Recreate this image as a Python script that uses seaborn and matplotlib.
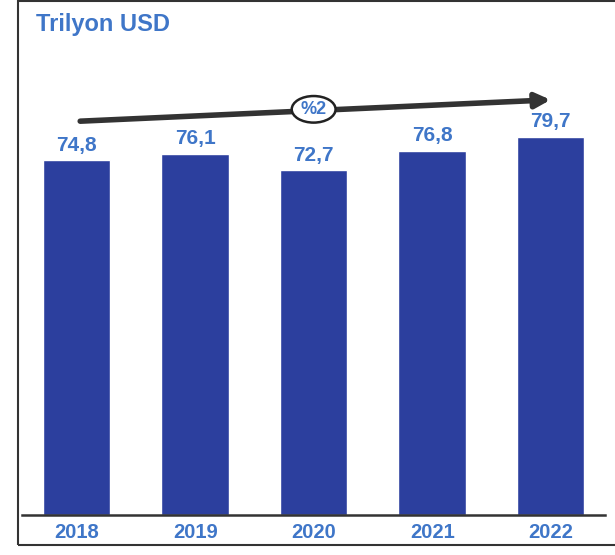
import pandas as pd
import matplotlib.pyplot as plt
import seaborn as sns
from matplotlib.patches import Ellipse, Rectangle

years = ['2018', '2019', '2020', '2021', '2022']
values = [74.8, 76.1, 72.7, 76.8, 79.7]
growth_label = '%2'
unit_title = 'Trilyon USD'

bar_color = '#2c3f9e'
text_color = '#3f76c8'

sns.set_style('white')
plt.rcParams['font.family'] = ['Liberation Sans', 'DejaVu Sans']

df = pd.DataFrame({'year': years, 'value': values})

fig = plt.figure(figsize=(6.15, 5.55), dpi=100)
ax = fig.add_axes([0.036, 0.072, 0.948, 0.855])

sns.barplot(data=df, x='year', y='value', color=bar_color, width=0.57,
            saturation=1, ax=ax)

ax.set_xlim(-0.46, 4.46)
ax.set_ylim(0, 100)
ax.set_xlabel('')
ax.set_ylabel('')
ax.set_yticks([])
ax.tick_params(axis='x', length=0, pad=6, labelsize=14.5, labelcolor=text_color)
for lbl in ax.get_xticklabels():
    lbl.set_fontweight('bold')
for side in ['top', 'right', 'left']:
    ax.spines[side].set_visible(False)
ax.spines['bottom'].set_color('#333333')
ax.spines['bottom'].set_linewidth(1.8)

ax.bar_label(ax.containers[0],
             labels=[f'{v:.1f}'.replace('.', ',') for v in values],
             padding=4, fontsize=15, fontweight='bold', color=text_color)

# growth arrow
ax.annotate('', xy=(4.0, 87.5), xytext=(0.03, 83),
            arrowprops=dict(arrowstyle='-|>', color='#333333', lw=4,
                            mutation_scale=22, shrinkA=0, shrinkB=0))
ax.add_patch(Ellipse((2.0, 85.5), 0.37, 5.6, facecolor='white',
                     edgecolor='#222222', lw=1.8, zorder=5))
ax.text(2.0, 85.5, growth_label, ha='center', va='center', fontsize=13,
        fontweight='bold', color=text_color, zorder=6)

fig.text(0.058, 0.955, unit_title, ha='left', va='center', fontsize=17,
         fontweight='bold', color=text_color)

# outer frame
fig.patches.append(Rectangle((0.03, 0.018), 0.99, 0.98, transform=fig.transFigure,
                             fill=False, edgecolor='#333333', lw=1.5))

fig.savefig('out.png', dpi=100, facecolor='white')
